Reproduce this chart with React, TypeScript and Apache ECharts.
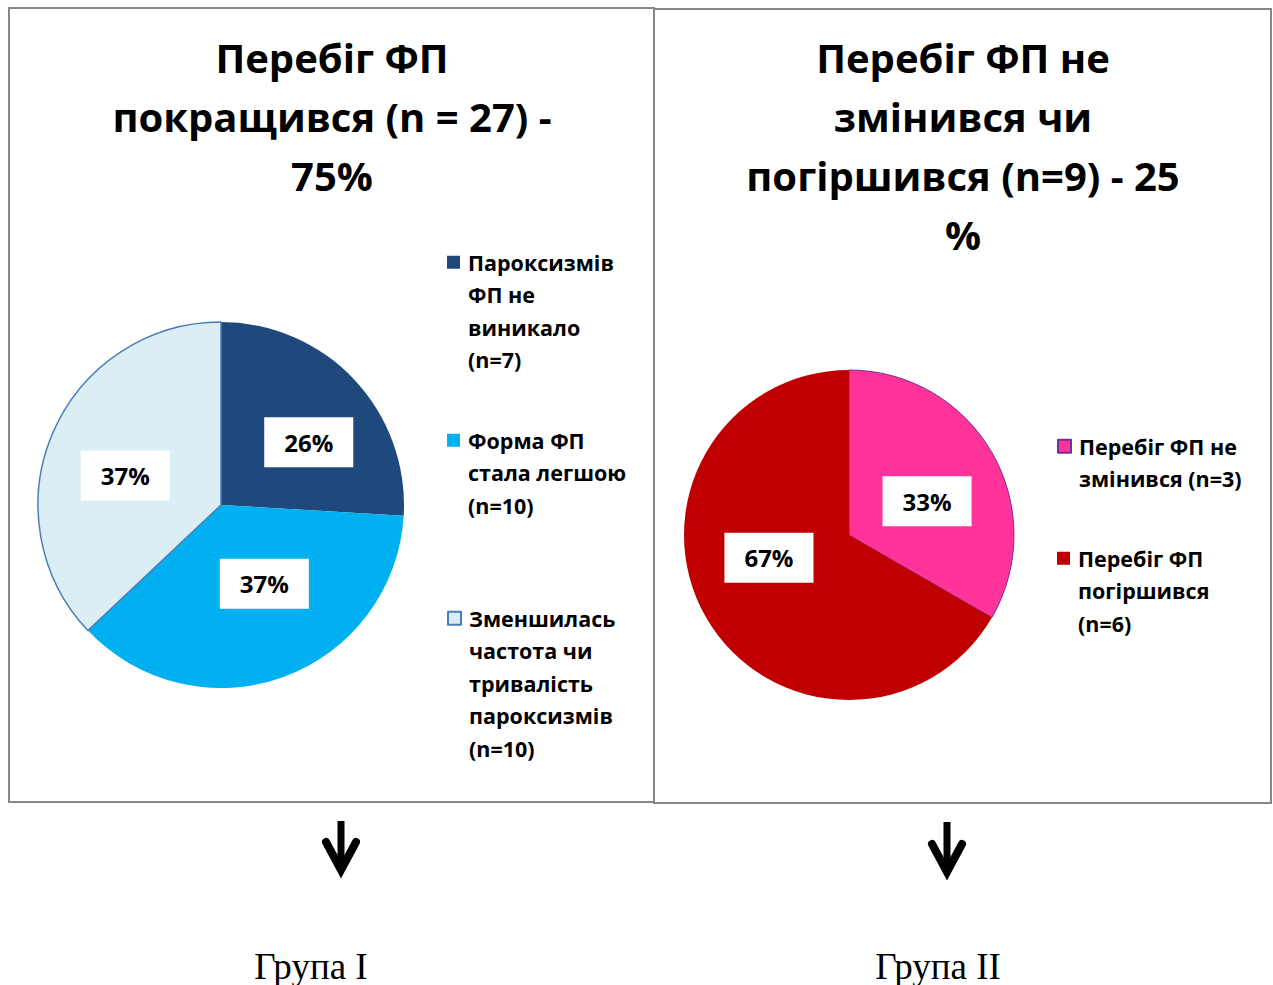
import React, { useEffect, useRef } from 'react';
import * as echarts from 'echarts';

// ---- data ----
const group1Categories = [
  'Пароксизмів\nФП не\nвиникало\n(n=7)',
  'Форма ФП\nстала легшою\n(n=10)',
  'Зменшилась\nчастота чи\nтривалість\nпароксизмів\n(n=10)',
];
const group1Values = [7, 10, 10];
const group2Categories = ['Перебіг ФП не\nзмінився (n=3)', 'Перебіг ФП\nпогіршився\n(n=6)'];
const group2Values = [3, 6];
const titles = [
  'Перебіг ФП\nпокращився (n = 27) -\n75%',
  'Перебіг ФП не\nзмінився чи\nпогіршився (n=9) - 25\n%',
];
const captions = ['Група I', 'Група II'];

// ---- styling ----
const group1Colors = ['#1F497D', '#00B0F0', '#DBEEF4'];
const group1Borders = [
  { borderWidth: 0 },
  { borderWidth: 0 },
  { borderColor: '#4A7EBB', borderWidth: 1.5 },
];
const group2Colors = ['#FF3399', '#C00000'];
const group2Borders = [{ borderColor: '#7030A0', borderWidth: 1 }, { borderWidth: 0 }];
const group1LabelShift = [
  [19, 2],
  [11, -10],
  [-9, 8],
];
const group2LabelShift = [
  [4, 9],
  [-6, -20],
];
const group1LegendTops = [246, 424, 601];
const group2LegendTops = [429, 542];

const FONT = '"Open Sans", "Noto Sans", sans-serif';
const LH = 32.5;

function iconFor(name: string) {
  const n = name.split('\n').length;
  const H = n * LH;
  const a = LH / 2 - 6.5;
  return `path://M0,0M0,${H}M0,${a}L13,${a}L13,${a + 13}L0,${a + 13}Z`;
}

function legendFor(name: string, left: number, top: number) {
  const n = name.split('\n').length;
  return {
    data: [name],
    left,
    top,
    padding: 0,
    orient: 'vertical',
    selectedMode: false,
    icon: iconFor(name),
    itemWidth: 13,
    itemHeight: n * LH,
    textStyle: {
      fontFamily: FONT,
      fontWeight: 'bold',
      fontSize: 21.5,
      lineHeight: LH,
      color: '#000',
      padding: [0, 0, 0, 3],
    },
  };
}

function pieLabel() {
  return {
    show: true,
    position: 'inside',
    formatter: (p: any) => Math.round(p.percent) + '%',
    backgroundColor: '#fff',
    padding: [12, 20],
    color: '#000',
    fontFamily: FONT,
    fontWeight: 'bold',
    fontSize: 24,
    lineHeight: 26,
  };
}

function arrow(x: number, y0: number, y1: number) {
  return [
    {
      type: 'line',
      shape: { x1: x, y1: y0, x2: x, y2: y1 - 6 },
      style: { stroke: '#000', lineWidth: 7 },
    },
    {
      type: 'polyline',
      shape: { points: [[x - 15, y1 - 30], [x, y1 - 2], [x + 15, y1 - 30]] },
      style: { stroke: '#000', lineWidth: 8, lineCap: 'round', lineJoin: 'miter', fill: 'none' },
    },
  ];
}

const TITLE_STYLE = { fontFamily: FONT, fontWeight: 'bold', fontSize: 40, lineHeight: 59, color: '#000' };
const CAPTION_STYLE = {
  fontFamily: '"Liberation Serif", "Times New Roman", serif',
  fontSize: 37,
  fill: '#000',
  textAlign: 'center',
  textVerticalAlign: 'middle',
};

export default function App() {
  const ref = useRef<HTMLDivElement>(null);
  useEffect(() => {
    if (!ref.current) return;
    const chart = echarts.init(ref.current, undefined, { renderer: 'svg' });
    const option: any = {
      animation: false,
      backgroundColor: '#fff',
      title: [
        { text: titles[0], left: 332, top: 28, textAlign: 'center', padding: 0, textStyle: TITLE_STYLE },
        { text: titles[1], left: 963, top: 28, textAlign: 'center', padding: 0, textStyle: TITLE_STYLE },
      ],
      legend: [
        ...group1Categories.map((c, i) => legendFor(c, 447, group1LegendTops[i])),
        ...group2Categories.map((c, i) => legendFor(c, 1057, group2LegendTops[i])),
      ],
      series: [
        {
          type: 'pie',
          center: [221, 505],
          radius: 183,
          startAngle: 90,
          clockwise: true,
          label: pieLabel(),
          labelLine: { show: false },
          labelLayout: (p: any) => ({ dx: group1LabelShift[p.dataIndex][0], dy: group1LabelShift[p.dataIndex][1] }),
          emphasis: { disabled: true },
          data: group1Categories.map((name, i) => ({
            name,
            value: group1Values[i],
            itemStyle: { color: group1Colors[i], ...group1Borders[i] },
          })),
        },
        {
          type: 'pie',
          center: [849, 535],
          radius: 165,
          startAngle: 90,
          clockwise: true,
          label: pieLabel(),
          labelLine: { show: false },
          labelLayout: (p: any) => ({ dx: group2LabelShift[p.dataIndex][0], dy: group2LabelShift[p.dataIndex][1] }),
          emphasis: { disabled: true },
          data: group2Categories.map((name, i) => ({
            name,
            value: group2Values[i],
            itemStyle: { color: group2Colors[i], ...group2Borders[i] },
          })),
        },
      ],
      graphic: [
        {
          type: 'rect',
          shape: { x: 9, y: 8, width: 645, height: 794 },
          style: { fill: 'none', stroke: '#878787', lineWidth: 2 },
          silent: true,
        },
        {
          type: 'rect',
          shape: { x: 654, y: 9, width: 617, height: 794 },
          style: { fill: 'none', stroke: '#878787', lineWidth: 2 },
          silent: true,
        },
        ...arrow(341, 821, 872),
        ...arrow(947, 822, 874),
        { type: 'text', x: 311, y: 966, style: { text: captions[0], ...CAPTION_STYLE } },
        { type: 'text', x: 938, y: 966, style: { text: captions[1], ...CAPTION_STYLE } },
      ],
    };
    chart.setOption(option);
    return () => chart.dispose();
  }, []);
  return <div ref={ref} style={{ position: 'absolute', left: 0, top: 0, width: 1273, height: 985 }} />;
}
